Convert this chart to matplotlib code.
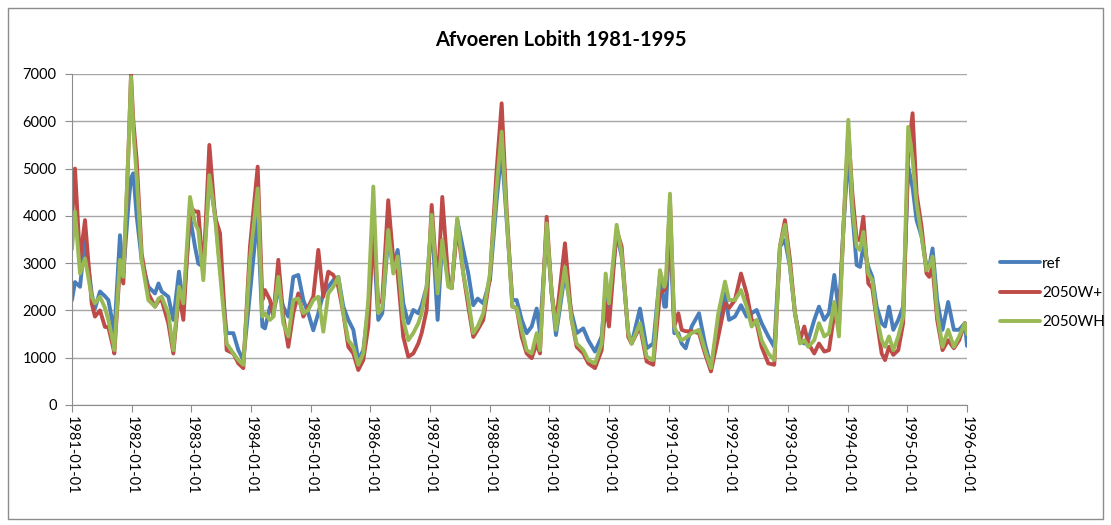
import matplotlib
matplotlib.use("Agg")
import matplotlib.pyplot as plt
from matplotlib.patches import Rectangle

plt.rcParams['font.family'] = ['Lato', 'DejaVu Sans']

# time in years since 1981-01-01
t_years = [0.0, 0.05, 0.134, 0.218, 0.33, 0.385, 0.469, 0.553, 0.609, 0.693, 0.709, 0.804, 0.86, 0.95, 0.989,
           1.028, 1.084, 1.168, 1.279, 1.391, 1.45, 1.503, 1.614, 1.698, 1.793, 1.866, 1.978,
           2.061, 2.117, 2.201, 2.302, 2.397, 2.481, 2.592, 2.704, 2.788, 2.871, 2.983,
           3.112, 3.19, 3.234, 3.318, 3.374, 3.458, 3.541, 3.625, 3.709, 3.793, 3.877, 3.96,
           4.044, 4.128, 4.212, 4.296, 4.38, 4.463, 4.547, 4.631, 4.715, 4.798, 4.882, 4.966,
           5.05, 5.133, 5.2, 5.30, 5.385, 5.458, 5.552, 5.636, 5.72, 5.804, 5.86, 5.944,
           6.028, 6.128, 6.206, 6.307, 6.363, 6.457, 6.558, 6.642, 6.725, 6.799, 6.893,
           7.005, 7.117, 7.201, 7.285, 7.38, 7.452, 7.537, 7.62, 7.704, 7.788, 7.843, 7.955,
           8.039, 8.111, 8.262, 8.374, 8.458, 8.569, 8.653, 8.765, 8.877, 8.944,
           9.0, 9.128, 9.212, 9.323, 9.379, 9.519, 9.631, 9.742, 9.854, 9.927, 9.955,
           10.022, 10.094, 10.162, 10.218, 10.285, 10.385, 10.508, 10.608, 10.709, 10.832, 10.944,
           11.011, 11.111, 11.212, 11.307, 11.391, 11.474, 11.558, 11.67, 11.77, 11.865, 11.949,
           12.033, 12.117, 12.201, 12.273, 12.34, 12.44, 12.519, 12.608, 12.687, 12.776, 12.854, 12.927,
           13.011, 13.079, 13.151, 13.207, 13.263, 13.346, 13.413, 13.486, 13.57, 13.626, 13.693, 13.765, 13.848, 13.93,
           14.014, 14.088, 14.155, 14.239, 14.322, 14.367, 14.423, 14.5, 14.59, 14.684, 14.78, 14.868, 14.964, 15.0]

ref = [2220, 2600, 2500, 3500, 2360, 2040, 2400, 2300, 2220, 1650, 1500, 3590, 2780, 4300, 4800,
       4900, 4000, 3060, 2500, 2360, 2570, 2400, 2290, 1800, 2820, 2080, 3980,
       3350, 2990, 2920, 4760, 4050, 2920, 1520, 1520, 1160, 950, 2360,
       4050, 1660, 1620, 2080, 1940, 2430, 2080, 1870, 2710, 2750, 2220, 1940,
       1580, 1940, 2360, 2500, 2640, 2710, 2080, 1800, 1590, 950, 1160, 2080,
       3560, 1800, 1940, 3560, 2920, 3280, 2150, 1730, 2010, 1940, 2110, 2500,
       3910, 1800, 3490, 2640, 2470, 3910, 3280, 2780, 2110, 2250, 2150,
       2640, 4330, 5390, 3910, 2220, 2220, 1800, 1520, 1660, 2040, 1520, 3730,
       2360, 1480, 2780, 1940, 1520, 1620, 1370, 1130, 1450, 2500,
       2080, 3630, 3140, 1520, 1300, 2040, 1200, 1300, 2750, 2080, 2080,
       3770, 1520, 1520, 1300, 1200, 1660, 1940, 1300, 810, 1660, 2360,
       1800, 1870, 2110, 1870, 1940, 2010, 1730, 1450, 1230, 3350, 3490,
       2920, 1940, 1370, 1300, 1370, 1800, 2080, 1800, 1940, 2750, 1940, 3700,
       5390, 4050, 2960, 2920, 3350, 2920, 2710, 2080, 1730, 1660, 2080, 1590, 1800, 2080,
       5040, 4600, 3910, 3560, 2920, 2920, 3310, 2220, 1590, 2180, 1590, 1590, 1730, 1250]

w_plus = [3900, 5000, 3060, 3910, 2150, 1870, 2000, 1650, 1650, 1200, 1090, 2940, 2570, 5500, 7000,
          6000, 5180, 3200, 2360, 2080, 2200, 2220, 1730, 1090, 2360, 1800, 4190,
          4090, 4090, 2780, 5500, 3980, 3630, 1160, 1090, 880, 780, 3350,
          5040, 2220, 2430, 2220, 1870, 3070, 1870, 1230, 1940, 2360, 1870, 2080,
          2290, 3280, 2290, 2820, 2750, 2500, 1940, 1230, 1090, 740, 950, 1660,
          3770, 2150, 2220, 4330, 3070, 2780, 1440, 1020, 1090, 1300, 1520, 2010,
          4230, 2430, 4400, 2640, 2470, 3770, 2780, 2080, 1440, 1590, 1800,
          2710, 4970, 6380, 4120, 2080, 2050, 1440, 1090, 990, 1300, 1090, 3980,
          2360, 1730, 3420, 1800, 1230, 1090, 880, 780, 1160, 2150,
          1660, 3700, 3350, 1440, 1300, 1660, 920, 850, 2360, 2430, 2500,
          4330, 1660, 1940, 1590, 1560, 1560, 1520, 1090, 710, 1450, 2150,
          2050, 2220, 2780, 2360, 1800, 1730, 1230, 880, 850, 3350, 3910,
          3070, 1940, 1370, 1660, 1300, 1090, 1300, 1130, 1160, 1940, 1660, 3700,
          5810, 4470, 3490, 3490, 3980, 2570, 2470, 1800, 1090, 950, 1230, 1060, 1160, 1730,
          5300, 6170, 4470, 3770, 2780, 2710, 2920, 1800, 1160, 1370, 1200, 1370, 1730, 1550]

wh = [3300, 4090, 2780, 3100, 2290, 2150, 2290, 2050, 1800, 1300, 1160, 3070, 2710, 5500, 6940,
      5800, 4830, 3060, 2220, 2080, 2250, 2290, 1940, 1160, 2500, 2150, 4400,
      3840, 3700, 2640, 4860, 3980, 2780, 1300, 1090, 950, 850, 3070,
      4580, 1870, 1940, 1800, 1870, 2710, 1730, 1450, 2220, 2250, 1940, 2010,
      2220, 2290, 1550, 2360, 2500, 2710, 1940, 1370, 1230, 850, 1090, 2220,
      4620, 1940, 2050, 3700, 2780, 3140, 1800, 1370, 1520, 1730, 1940, 2500,
      4020, 2360, 3490, 2500, 2470, 3950, 2780, 2220, 1520, 1660, 1940,
      2780, 4620, 5780, 3980, 2080, 2050, 1590, 1160, 1090, 1520, 1160, 3840,
      2360, 1590, 2920, 1800, 1300, 1160, 950, 880, 1300, 2780,
      2150, 3810, 3200, 1520, 1300, 1730, 1020, 950, 2850, 2500, 2640,
      4470, 1660, 1450, 1370, 1420, 1520, 1590, 1160, 780, 1940, 2610,
      2220, 2220, 2430, 2080, 1660, 1800, 1370, 1090, 950, 3350, 3810,
      2920, 1940, 1300, 1370, 1230, 1370, 1730, 1450, 1520, 2180, 1450, 3700,
      6030, 4190, 3350, 3280, 3660, 2780, 2640, 1870, 1370, 1230, 1450, 1160, 1450, 1870,
      5880, 5200, 4260, 3560, 2850, 2920, 3140, 1940, 1230, 1590, 1230, 1450, 1730, 1500]

series_names = ["ref", "2050W+", "2050WH"]
series_colors = ["#4A7EBB", "#BE4B48", "#98B954"]
tick_years = list(range(1981, 1997))
tick_labels = [f"{y}-01-01" for y in tick_years]
y_ticks = list(range(0, 7001, 1000))

W, H = 1111, 525
fig = plt.figure(figsize=(W / 100, H / 100), dpi=100)
fig.patches.append(Rectangle((8 / W, 6 / H), 1 - 16 / W, 1 - 14 / H, transform=fig.transFigure,
                             fill=False, edgecolor="#8c8c8c", linewidth=1.0))

ax = fig.add_axes([72 / W, 1 - 405 / H, (967 - 72) / W, (405 - 74) / H])
x = [1981 + v for v in t_years]
for vals, name, col in zip([ref, w_plus, wh], series_names, series_colors):
    ax.plot(x, vals, color=col, lw=2.8, label=name, solid_joinstyle="round", solid_capstyle="round")

ax.set_xlim(1981, 1996)
ax.set_ylim(0, 7000)
ax.set_yticks(y_ticks)
ax.set_yticklabels([str(v) for v in y_ticks], fontsize=10.5)
ax.set_xticks(tick_years)
ax.set_xticklabels(tick_labels, rotation=270, fontsize=10.5)
ax.yaxis.grid(True, color="#a6a6a6", lw=1)
ax.set_axisbelow(True)
for s in ["top", "right"]:
    ax.spines[s].set_visible(False)
ax.spines["left"].set_color("#8c8c8c")
ax.spines["bottom"].set_color("#8c8c8c")
ax.tick_params(axis="x", direction="out", length=5, color="#8c8c8c", pad=3)
ax.tick_params(axis="y", direction="out", length=5, color="#8c8c8c", pad=6)

fig.text(0.505, 1 - 40 / H, "Afvoeren Lobith 1981-1995", ha="center", va="center",
         fontsize=14.5, fontweight="bold")

fig.legend(loc="center left", bbox_to_anchor=(994 / W, 1 - 293 / H), frameon=False,
           fontsize=11, handlelength=2.6, handletextpad=0.15, labelspacing=1.0, borderaxespad=0)

fig.savefig("out.png", dpi=100)
